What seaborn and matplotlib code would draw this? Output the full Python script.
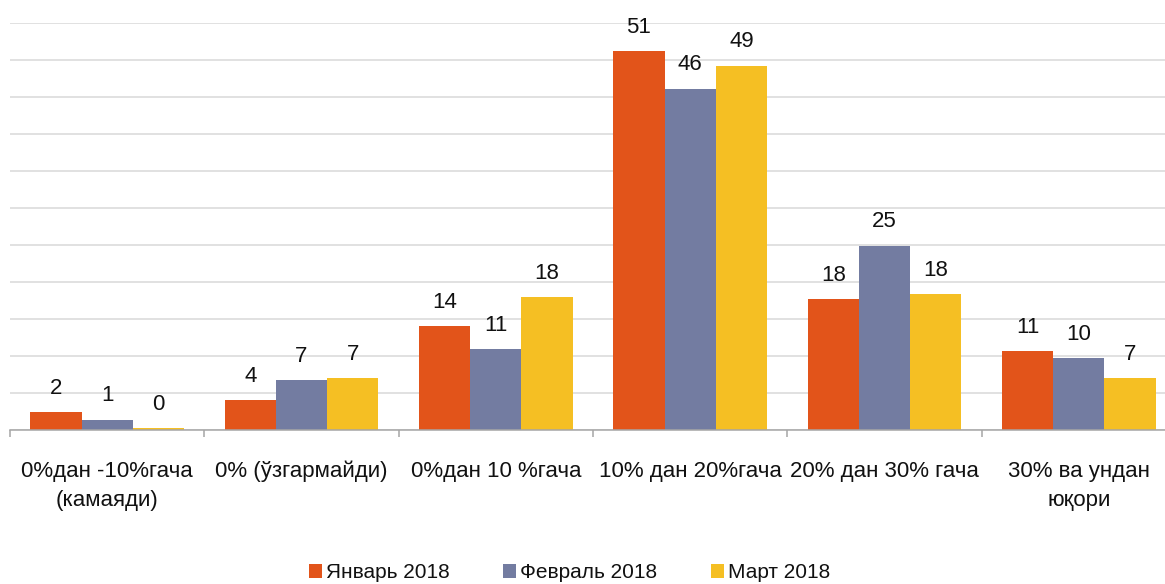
import matplotlib
matplotlib.use("Agg")
import matplotlib.pyplot as plt
import seaborn as sns
import pandas as pd

categories = ["0%дан -10%гача\n(камаяди)", "0% (ўзгармайди)", "0%дан 10 %гача",
              "10% дан 20%гача", "20% дан 30% гача", "30% ва ундан\nюқори"]
series_names = ["Январь 2018", "Февраль 2018", "Март 2018"]
jan = [2.4, 4.0, 14.0, 51.1, 17.7, 10.6]
feb = [1.4, 6.7, 10.9, 46.1, 24.9, 9.7]
mar = [0.3, 7.0, 17.9, 49.2, 18.3, 7.0]
colors = ["#E2541A", "#737CA1", "#F5BF23"]

sns.set_theme(style="white")
plt.rcParams['font.family'] = ['Liberation Sans', 'DejaVu Sans']

rows = []
for s, vals in zip(series_names, [jan, feb, mar]):
    for c, v in zip(categories, vals):
        rows.append({"category": c, "series": s, "value": v})
df = pd.DataFrame(rows)

FS = 16
TXT = "#111111"
fig = plt.figure(figsize=(11.65, 5.84), dpi=100)
ax = fig.add_axes([10/1165, 154/584, 1166/1165, 407.4/584])

sns.barplot(data=df, x="category", y="value", hue="series", order=categories,
            hue_order=series_names, palette=colors, saturation=1, width=0.79,
            linewidth=0, ax=ax)

for cont in ax.containers:
    ax.bar_label(cont, labels=[f"{v:.0f}" for v in cont.datavalues],
                 padding=9.5, fontsize=FS, color=TXT)

handles, labels = ax.get_legend_handles_labels()
if ax.legend_ is not None:
    ax.legend_.remove()
fig.legend(handles, labels, loc="center", bbox_to_anchor=(0.489, 0.0195), ncol=3,
           frameon=False, handlelength=0.62, handleheight=0.62, handletextpad=0.2,
           columnspacing=2.55, fontsize=15, labelcolor=TXT, borderpad=0.1)

ax.set_ylim(0, 55)
ax.set_xlim(-0.5, 5.5)
ax.set_yticks(range(0, 56, 5))
ax.set_yticklabels([])
ax.tick_params(axis="y", length=0)
ax.yaxis.grid(True, color="#D9D9D9", linewidth=1.1)
ax.set_axisbelow(True)
ax.set_xticks(range(len(categories)))
ax.set_xticklabels(categories, fontsize=FS, color=TXT, linespacing=1.55)
ax.set_xticks([i - 0.5 for i in range(len(categories) + 1)], minor=True)
ax.tick_params(axis="x", which="major", length=0, pad=22)
ax.tick_params(axis="x", which="minor", length=5, width=1.1, color="#A6A6A6", bottom=True)
ax.set_xlabel("")
ax.set_ylabel("")
for sp in ["top", "left", "right"]:
    ax.spines[sp].set_visible(False)
ax.spines["bottom"].set_color("#A6A6A6")
ax.spines["bottom"].set_linewidth(1.1)

fig.savefig("out.png", dpi=100)
